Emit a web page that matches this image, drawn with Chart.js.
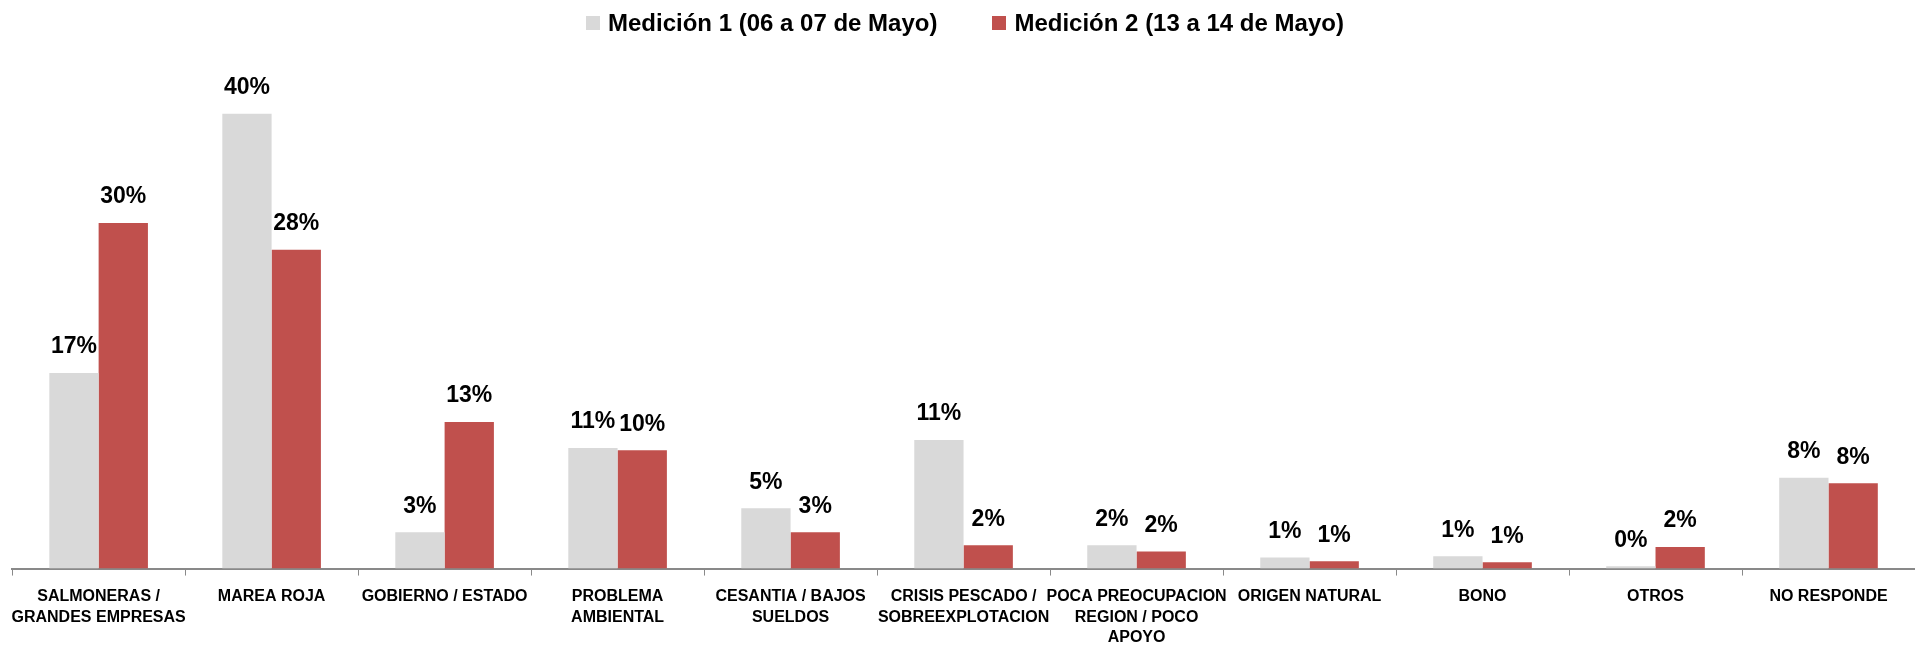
<!DOCTYPE html>
<html lang="es">
<head>
  <meta charset="UTF-8">
  <title>Medición 1 vs Medición 2</title>
  <script src="https://cdn.jsdelivr.net/npm/chart.js"></script>
  <style>
    body {
      margin: 0;
      background: #FFFFFF;
      font-family: 'Liberation Sans', Arial, sans-serif;
    }
    .chart-container {
      width: 1915px;
      height: 646px;
      position: relative;
    }
    /* Leyenda en HTML, superpuesta arriba del canvas */
    #leyenda {
      position: absolute;
      top: 9px;
      left: 586px;
      display: flex;
      align-items: center;
      font-weight: bold;
      font-size: 24px;
      color: #000000;
      white-space: nowrap;
    }
    #leyenda .item {
      display: flex;
      align-items: center;
      margin-right: 55px;
    }
    #leyenda .caja {
      width: 14px;
      height: 14px;
      margin-right: 8px;
    }
  </style>
</head>
<body>
  <div class="chart-container">
    <div id="leyenda"></div>
    <canvas id="encuestaChart"></canvas>
  </div>

  <script>
    // Categorías (etiquetas en varias líneas como en el original)
    const categorias = [
      ["SALMONERAS /", "GRANDES EMPRESAS"],
      "MAREA ROJA",
      "GOBIERNO / ESTADO",
      ["PROBLEMA", "AMBIENTAL"],
      ["CESANTIA / BAJOS", "SUELDOS"],
      ["CRISIS PESCADO /", "SOBREEXPLOTACION"],
      ["POCA PREOCUPACION", "REGION / POCO", "APOYO"],
      "ORIGEN NATURAL",
      "BONO",
      "OTROS",
      "NO RESPONDE"
    ];

    const medicion1 = [17.2, 40.0, 3.2, 10.6, 5.3, 11.3, 2.05, 0.97, 1.08, 0.2, 7.98];
    const medicion2 = [30.4, 28.05, 12.9, 10.4, 3.2, 2.05, 1.5, 0.65, 0.55, 1.9, 7.5];

    const etiquetaSerie1 = "Medición 1 (06 a 07 de Mayo)";
    const etiquetaSerie2 = "Medición 2 (13 a 14 de Mayo)";
    const colorSerie1 = "#D9D9D9";
    const colorSerie2 = "#C0504D";

    Chart.defaults.font.family = "'Liberation Sans', Arial, sans-serif";
    Chart.defaults.color = "#000000";

    // Plugin simple para escribir el % encima de cada barra
    const etiquetasBarras = {
      id: "etiquetasBarras",
      afterDatasetsDraw(chart) {
        const ctx = chart.ctx;
        ctx.save();
        ctx.font = "bold 23px 'Liberation Sans', Arial, sans-serif";
        ctx.fillStyle = "#000000";
        ctx.textAlign = "center";
        ctx.textBaseline = "middle";
        chart.data.datasets.forEach((ds, i) => {
          chart.getDatasetMeta(i).data.forEach((bar, j) => {
            ctx.fillText(Math.round(ds.data[j]) + "%", bar.x, bar.y - 26);
          });
        });
        ctx.restore();
      }
    };

    const ctx = document.getElementById("encuestaChart").getContext("2d");
    const chart = new Chart(ctx, {
      type: "bar",
      data: {
        labels: categorias,
        datasets: [
          {
            label: etiquetaSerie1,
            data: medicion1,
            backgroundColor: colorSerie1,
            categoryPercentage: 0.57,
            barPercentage: 1.0
          },
          {
            label: etiquetaSerie2,
            data: medicion2,
            backgroundColor: colorSerie2,
            categoryPercentage: 0.57,
            barPercentage: 1.0
          }
        ]
      },
      options: {
        responsive: true,
        maintainAspectRatio: false,
        animation: false,
        layout: {
          padding: { left: 11, right: 0, top: 57, bottom: -13 }
        },
        plugins: {
          legend: { display: false },
          tooltip: { enabled: false }
        },
        scales: {
          x: {
            grid: {
              offset: true,
              drawOnChartArea: false,
              drawTicks: true,
              tickLength: 7,
              color: "#898989"
            },
            border: { display: true, color: "#898989", width: 2 },
            ticks: {
              maxRotation: 0,
              autoSkip: false,
              padding: 11,
              color: "#000000",
              font: { size: 16, weight: "bold", lineHeight: 1.28 }
            }
          },
          y: {
            display: false,
            min: 0,
            max: 45
          }
        }
      },
      plugins: [etiquetasBarras]
    });

    // Leyenda construida a partir de los datasets
    const leyenda = document.getElementById("leyenda");
    chart.data.datasets.forEach((ds) => {
      const item = document.createElement("div");
      item.className = "item";
      const caja = document.createElement("span");
      caja.className = "caja";
      caja.style.background = ds.backgroundColor;
      const texto = document.createElement("span");
      texto.textContent = ds.label;
      item.appendChild(caja);
      item.appendChild(texto);
      leyenda.appendChild(item);
    });
  </script>
</body>
</html>
